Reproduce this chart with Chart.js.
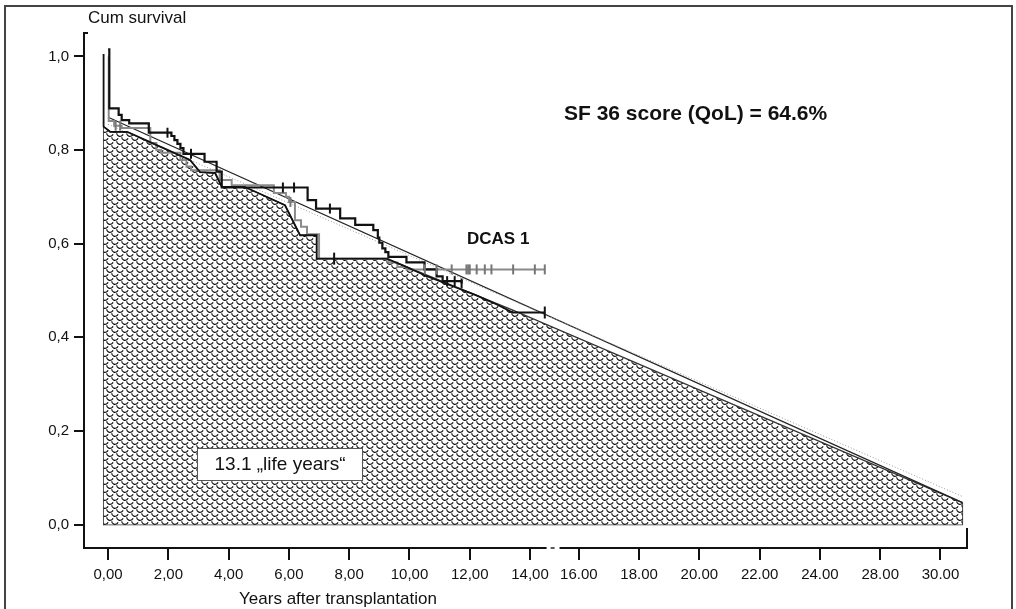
<!DOCTYPE html>
<html><head><meta charset="utf-8">
<script src="https://cdn.jsdelivr.net/npm/chart.js@4.4.1/dist/chart.umd.min.js"></script>
<style>
html,body{margin:0;padding:0;background:#fff;}
#wrap{position:relative;width:1016px;height:609px;overflow:hidden;background:#fff;}
#frame{position:absolute;left:4px;top:5px;width:1009px;height:640px;border:2px solid #444;box-sizing:border-box;pointer-events:none;}
#c{position:absolute;left:0;top:0;}
</style></head><body>
<div id="wrap"><canvas id="c" width="1016" height="609"></canvas><div id="frame"></div></div>
<script>
// ---- axis ticks ----
const xTickValues = [0, 2, 4, 6, 8, 10, 12, 14, 15.62, 17.62, 19.62, 21.62, 23.62, 25.62, 27.62];
const xTickLabels = ['0,00','2,00','4,00','6,00','8,00','10,00','12,00','14,00','16.00','18.00','20.00','22.00','24.00','28.00','30.00'];
const yTickValues = [0, 0.2, 0.4, 0.6, 0.8, 1.0];
const yTickLabels = ['0,0','0,2','0,4','0,6','0,8','1,0'];

// ---- upper black Kaplan-Meier curve (time of drop, survival after drop) ----
const upperT = [0, 0.04, 0.35, 0.45, 0.7, 1.35, 2.1, 2.2, 2.3, 2.4, 2.5, 3.2, 3.6, 3.77, 6.62, 6.9, 7.7, 8.2, 8.8, 8.95, 9.0, 9.1, 9.2, 9.3, 9.9, 10.5, 10.9, 11.1, 11.73];
const upperS = [1.015, 0.889, 0.875, 0.864, 0.857, 0.837, 0.83, 0.821, 0.813, 0.804, 0.792, 0.775, 0.754, 0.72, 0.693, 0.675, 0.654, 0.64, 0.629, 0.613, 0.602, 0.59, 0.582, 0.572, 0.56, 0.545, 0.53, 0.52, 0.515];
const upperCensT = [1.97, 2.75, 5.8, 6.17, 7.36, 11.25, 11.5, 11.73];
const upperCensS = [0.837, 0.792, 0.72, 0.72, 0.675, 0.52, 0.52, 0.515];

// ---- grey Kaplan-Meier curve (DCAS 1) ----
const greyT = [0, 0.02, 0.2, 0.45, 1.4, 1.6, 1.75, 2.4, 2.6, 2.75, 3.7, 4.1, 5.5, 5.9, 6.0, 6.2, 6.4, 6.6, 7.0, 9.3, 9.6, 9.9, 14.49];
const greyS = [1.0, 0.862, 0.852, 0.847, 0.815, 0.80, 0.794, 0.779, 0.765, 0.757, 0.736, 0.725, 0.708, 0.70, 0.689, 0.65, 0.636, 0.62, 0.568, 0.56, 0.55, 0.545, 0.545];
const greyCensT = [0.25, 0.4, 6.05, 10.51, 10.9, 11.4, 11.89, 11.95, 12.0, 12.23, 12.5, 12.72, 13.44, 14.16, 14.49];
const greyCensS = [0.852, 0.852, 0.689, 0.545, 0.545, 0.545, 0.545, 0.545, 0.545, 0.545, 0.545, 0.545, 0.545, 0.545, 0.545];

// ---- lower black survival curve ----
const lowerT = [-0.15, -0.15, 0.07, 0.63, 1.39, 2.72, 3.05, 3.55, 3.77, 4.54, 5.87, 6.37, 6.92, 6.92, 9.24, 9.8, 10.6, 11.2, 12.2, 12.9, 13.43, 14.49];
const lowerS = [1.005, 0.85, 0.839, 0.839, 0.817, 0.779, 0.753, 0.751, 0.722, 0.721, 0.682, 0.618, 0.618, 0.568, 0.568, 0.553, 0.53, 0.515, 0.49, 0.47, 0.453, 0.453];
const lowerCensT = [7.5, 14.49];
const lowerCensS = [0.568, 0.453];

// ---- hatched "life years" area (upper boundary) ----
const areaT = [-0.15, 0.07, 0.63, 1.39, 2.72, 3.05, 3.55, 3.77, 4.54, 5.87, 6.37, 6.92, 6.92, 9.24, 13.43, 28.35];
const areaS = [0.85, 0.839, 0.839, 0.817, 0.779, 0.753, 0.751, 0.722, 0.721, 0.682, 0.618, 0.618, 0.568, 0.568, 0.458, 0.047];

// ---- straight fitted lines ----
const fitT = [0, 28.35];
const fitS = [0.87, 0.047];
const dotT = [0, 28.35];
const dotS = [0.855, 0.06];

const zip = (xs, ys) => xs.map((x, i) => ({x: x, y: ys[i]}));

// hatch pattern (scale-like texture)
function makePattern() {
  const p = document.createElement('canvas');
  p.width = 10; p.height = 8;
  const g = p.getContext('2d');
  g.fillStyle = '#fff'; g.fillRect(0, 0, 10, 8);
  g.strokeStyle = '#151515'; g.lineWidth = 1.2;
  const cup = (cx, cy) => { g.beginPath(); g.arc(cx, cy, 3.3, 0.12 * Math.PI, 0.98 * Math.PI); g.stroke(); };
  cup(5, 1); cup(0, 5); cup(10, 5); cup(5, 9); cup(0, -3); cup(10, -3);
  return g.createPattern(p, 'repeat');
}
const FONT = "'Liberation Sans', Arial, sans-serif";

const decor = {
  id: 'decor',
  beforeDatasetsDraw(chart) {
    const ctx = chart.ctx, xs = chart.scales.x, ys = chart.scales.y;
    const x0 = xs.getPixelForValue(areaT[0]), x1 = xs.getPixelForValue(areaT[areaT.length - 1]);
    const yb = ys.getPixelForValue(0);
    ctx.save();
    ctx.strokeStyle = '#333'; ctx.lineWidth = 1.2;
    ctx.beginPath();
    ctx.moveTo(x0, ys.getPixelForValue(areaS[0]));
    ctx.lineTo(x0, yb); ctx.lineTo(x1, yb);
    ctx.lineTo(x1, ys.getPixelForValue(areaS[areaS.length - 1]));
    ctx.stroke();
    ctx.restore();
  },
  afterDraw(chart) {
    const ctx = chart.ctx, xs = chart.scales.x, ys = chart.scales.y, ca = chart.chartArea;
    ctx.save();
    // axis break on x axis
    const gx0 = xs.getPixelForValue(14.55), gx1 = xs.getPixelForValue(14.98);
    ctx.fillStyle = '#fff';
    ctx.fillRect(gx0, ca.bottom - 3, gx1 - gx0, 6);
    ctx.strokeStyle = '#222'; ctx.lineWidth = 1.5;
    ctx.beginPath(); ctx.moveTo(gx0 + 4, ca.bottom); ctx.lineTo(gx0 + 8, ca.bottom); ctx.stroke();
    // right end bracket and top hook of y axis
    ctx.lineWidth = 2; ctx.strokeStyle = '#111';
    ctx.beginPath(); ctx.moveTo(ca.right, ca.bottom); ctx.lineTo(ca.right, ca.bottom - 20); ctx.stroke();
    ctx.beginPath(); ctx.moveTo(ca.left, ca.top); ctx.lineTo(ca.left + 4, ca.top); ctx.stroke();
    // texts
    ctx.fillStyle = '#111';
    ctx.textBaseline = 'middle';
    ctx.textAlign = 'left';
    ctx.font = '17px ' + FONT;
    ctx.fillText('Cum survival', 88, 18);
    ctx.textAlign = 'center';
    ctx.font = '17px ' + FONT;
    ctx.fillText('Years after transplantation', 338, 599);
    ctx.textAlign = 'left';
    ctx.font = 'bold 21px ' + FONT;
    ctx.fillText('SF 36 score (QoL) = 64.6%', 564, 114);
    ctx.font = 'bold 17px ' + FONT;
    ctx.fillText('DCAS 1', 467, 239);
    // life-years box
    ctx.fillStyle = '#fff';
    ctx.fillRect(197, 448, 166, 33);
    ctx.strokeStyle = '#555'; ctx.lineWidth = 1;
    ctx.strokeRect(197.5, 448.5, 165, 32);
    ctx.fillStyle = '#111';
    ctx.font = '19px ' + FONT;
    ctx.textAlign = 'center';
    ctx.fillText('13.1 \u201Elife years\u201C', 280, 465);
    ctx.restore();
  }
};

const pattern = makePattern();
const tickStyle = (color, r) => ({ showLine: false, pointStyle: 'line', rotation: 90, pointRadius: r, pointBorderColor: color, pointBorderWidth: 2, pointHoverRadius: r });

new Chart(document.getElementById('c'), {
  type: 'line',
  data: {
    datasets: [
      Object.assign({ data: zip(upperCensT, upperCensS) }, tickStyle('#111', 5)),
      Object.assign({ data: zip(lowerCensT, lowerCensS) }, tickStyle('#111', 6)),
      Object.assign({ data: zip(greyCensT, greyCensS) }, tickStyle('#777', 5)),
      { data: zip(upperT, upperS), stepped: true, borderColor: '#111', borderWidth: 2.2, pointRadius: 0, fill: false },
      { data: zip(lowerT, lowerS), borderColor: '#111', borderWidth: 1.8, pointRadius: 0, fill: false, tension: 0 },
      { data: zip(greyT, greyS), stepped: true, borderColor: '#8a8a8a', borderWidth: 2, pointRadius: 0, fill: false },
      { data: zip(dotT, dotS), borderColor: '#999', borderWidth: 1, borderDash: [1, 2], pointRadius: 0, fill: false },
      { data: zip(fitT, fitS), borderColor: '#222', borderWidth: 1.2, pointRadius: 0, fill: false },
      { data: zip(areaT, areaS), borderColor: '#333', borderWidth: 1.2, pointRadius: 0, fill: 'origin', backgroundColor: pattern, tension: 0 }
    ]
  },
  options: {
    responsive: false, animation: false, devicePixelRatio: 1,
    layout: { padding: { left: 0, right: 49, top: 33, bottom: 0 } },
    plugins: { legend: { display: false }, tooltip: { enabled: false } },
    events: [],
    scales: {
      x: {
        type: 'linear', min: -0.8, max: 28.5,
        afterBuildTicks: (s) => { s.ticks = xTickValues.map(v => ({ value: v })); },
        afterFit: (s) => { s.height = 61; },
        ticks: { autoSkip: false, maxRotation: 0, padding: 6, color: '#111',
          font: { family: FONT, size: 15 },
          callback: (v, i) => xTickLabels[i] },
        grid: { drawOnChartArea: false, drawTicks: true, tickLength: 12, color: '#111', lineWidth: 2 },
        border: { display: true, color: '#111', width: 2 }
      },
      y: {
        type: 'linear', min: -0.05, max: 1.05,
        afterBuildTicks: (s) => { s.ticks = yTickValues.map(v => ({ value: v })); },
        afterFit: (s) => { s.width = 84; },
        ticks: { padding: 5, color: '#111', font: { family: FONT, size: 15 },
          callback: (v, i) => yTickLabels[i] },
        grid: { drawOnChartArea: false, drawTicks: true, tickLength: 10, color: '#111', lineWidth: 2 },
        border: { display: true, color: '#111', width: 2 }
      }
    }
  },
  plugins: [decor]
});
</script>
</body></html>
